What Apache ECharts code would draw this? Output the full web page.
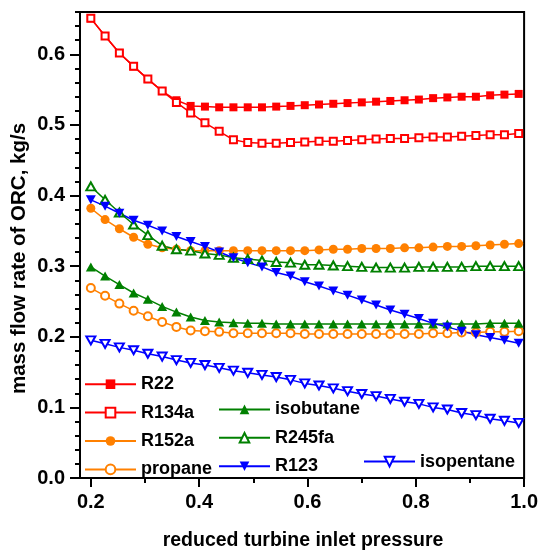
<!DOCTYPE html>
<html>
<head>
<meta charset="utf-8">
<script src="https://cdn.jsdelivr.net/npm/echarts@6/dist/echarts.min.js"></script>
<style>
html,body{margin:0;padding:0;background:#fff;}
#chart{width:541px;height:551px;}
</style>
</head>
<body>
<div id="chart"></div>
<script>
// ---- data ----
const xValues = [0.200,0.2263,0.2527,0.2790,0.3053,0.3317,0.3580,0.3843,0.4107,0.4370,0.4633,0.4897,0.5160,0.5423,0.5687,0.5950,0.6213,0.6477,0.6740,0.7003,0.7267,0.7530,0.7793,0.8057,0.8320,0.8583,0.8847,0.9110,0.9373,0.9637,0.9900];
const R22 = [0.651,0.626,0.602,0.583,0.565,0.548,0.535,0.527,0.526,0.525,0.525,0.525,0.525,0.526,0.527,0.528,0.529,0.530,0.531,0.532,0.533,0.534,0.535,0.536,0.538,0.539,0.540,0.540,0.542,0.543,0.544];
const R134a = [0.651,0.626,0.602,0.583,0.565,0.548,0.532,0.517,0.503,0.491,0.479,0.475,0.474,0.474,0.475,0.476,0.477,0.477,0.478,0.479,0.480,0.481,0.481,0.482,0.483,0.483,0.484,0.485,0.486,0.486,0.488];
const R152a = [0.382,0.366,0.353,0.341,0.331,0.326,0.324,0.322,0.322,0.322,0.322,0.322,0.322,0.322,0.322,0.322,0.323,0.324,0.324,0.325,0.325,0.325,0.326,0.326,0.327,0.328,0.328,0.329,0.330,0.331,0.332];
const propane = [0.269,0.258,0.247,0.237,0.229,0.221,0.214,0.209,0.208,0.207,0.205,0.205,0.205,0.205,0.205,0.204,0.204,0.204,0.204,0.204,0.204,0.204,0.204,0.204,0.205,0.205,0.206,0.206,0.207,0.207,0.208];
const isobutane = [0.299,0.286,0.274,0.262,0.253,0.243,0.235,0.228,0.223,0.221,0.220,0.219,0.219,0.218,0.218,0.218,0.218,0.218,0.218,0.218,0.218,0.218,0.218,0.218,0.218,0.218,0.218,0.218,0.219,0.219,0.219];
const R245fa = [0.413,0.394,0.376,0.359,0.344,0.329,0.324,0.322,0.318,0.316,0.312,0.310,0.308,0.306,0.305,0.302,0.302,0.301,0.300,0.299,0.298,0.298,0.298,0.299,0.299,0.299,0.299,0.300,0.300,0.300,0.300];
const R123 = [0.394,0.385,0.375,0.365,0.358,0.350,0.342,0.335,0.328,0.320,0.312,0.305,0.299,0.291,0.286,0.278,0.272,0.265,0.259,0.252,0.245,0.238,0.232,0.226,0.219,0.214,0.208,0.203,0.199,0.195,0.191];
const isopentane = [0.195,0.190,0.185,0.181,0.176,0.172,0.167,0.163,0.160,0.156,0.152,0.149,0.146,0.143,0.139,0.134,0.131,0.127,0.123,0.119,0.116,0.112,0.108,0.105,0.100,0.097,0.092,0.089,0.084,0.081,0.078];

const xMajorTicks = [0.2,0.4,0.6,0.8,1.0];
const xMinorTicks = [0.3,0.5,0.7,0.9];
const yMajorTicks = [0,0.1,0.2,0.3,0.4,0.5,0.6];
const yMinorTicks = [0.02,0.04,0.06,0.08,0.12,0.14,0.16,0.18,0.22,0.24,0.26,0.28,0.32,0.34,0.36,0.38,0.42,0.44,0.46,0.48,0.52,0.54,0.56,0.58,0.62,0.64,0.66];

const xTitle = 'reduced turbine inlet pressure';
const yTitle = 'mass flow rate of ORC, kg/s';

// ---- chart ----
const FONT = '"Liberation Sans", Arial, sans-serif';
const pairs = ys => ys.map((y, i) => [xValues[i], y]);

function mk(name, ys, color, symbol, size, rotate) {
  const empty = symbol.indexOf('empty') === 0;
  return {
    name: name, type: 'line', data: pairs(ys),
    symbol: symbol, symbolSize: size, symbolRotate: rotate || 0,
    showAllSymbol: true,
    lineStyle: { color: color, width: 1.5 },
    itemStyle: { color: color, borderColor: color, borderWidth: empty ? 1.5 : 0 },
    emphasis: { disabled: true },
    animation: false
  };
}

const RED = '#ff0000', ORANGE = '#ff8000', GREEN = '#008000', BLUE = '#0000ff';

const series = [
  mk('R22', R22, RED, 'rect', 8),
  mk('R134a', R134a, RED, 'emptyRect', 7),
  mk('R152a', R152a, ORANGE, 'circle', 9),
  mk('propane', propane, ORANGE, 'emptyCircle', 8),
  mk('isobutane', isobutane, GREEN, 'triangle', [10, 9]),
  mk('R245fa', R245fa, GREEN, 'emptyTriangle', [9, 8]),
  mk('R123', R123, BLUE, 'triangle', [10, 9], 180),
  mk('isopentane', isopentane, BLUE, 'emptyTriangle', [9, 8], 180)
];

const legendBase = {
  orient: 'vertical', itemWidth: 51, itemHeight: 12, itemGap: 10.4,
  backgroundColor: 'transparent', padding: 0,
  textStyle: { fontFamily: FONT, fontWeight: 'bold', fontSize: 18, color: '#000' },
  selectedMode: false
};

const labelStyle = { fontFamily: FONT, fontWeight: 'bold', fontSize: 20, color: '#000' };

const option = {
  animation: false,
  backgroundColor: '#fff',
  grid: { left: 80, right: 16, top: 12, bottom: 73, show: true, borderColor: '#000', borderWidth: 2, backgroundColor: 'transparent' },
  legend: [
    Object.assign({}, legendBase, { left: 84, top: 375.2, data: ['R22', 'R134a', 'R152a', 'propane'] }),
    Object.assign({}, legendBase, { left: 218, top: 400.4, data: ['isobutane', 'R245fa', 'R123'] }),
    Object.assign({}, legendBase, { left: 363, top: 452.6, data: ['isopentane'] })
  ],
  xAxis: [
    {
      type: 'value', min: 0.18, max: 1.0, position: 'bottom',
      axisLine: { show: true, lineStyle: { color: '#000', width: 2 } },
      axisTick: { show: true, customValues: xMajorTicks, length: 9, lineStyle: { color: '#000', width: 2 } },
      axisLabel: Object.assign({ customValues: xMajorTicks, margin: 14, formatter: v => v.toFixed(1) }, labelStyle),
      splitLine: { show: false }
    },
    {
      type: 'value', min: 0.18, max: 1.0, position: 'bottom',
      axisLine: { show: false },
      axisTick: { show: true, customValues: xMinorTicks, length: 5, lineStyle: { color: '#000', width: 2 } },
      axisLabel: { show: false },
      splitLine: { show: false }
    }
  ],
  yAxis: [
    {
      type: 'value', min: 0, max: 0.66, position: 'left',
      axisLine: { show: true, lineStyle: { color: '#000', width: 2 } },
      axisTick: { show: true, customValues: yMajorTicks, length: 10, lineStyle: { color: '#000', width: 2 } },
      axisLabel: Object.assign({ customValues: yMajorTicks, margin: 15, formatter: v => v.toFixed(1) }, labelStyle),
      splitLine: { show: false }
    },
    {
      type: 'value', min: 0, max: 0.66, position: 'left',
      axisLine: { show: false },
      axisTick: { show: true, customValues: yMinorTicks, length: 5, lineStyle: { color: '#000', width: 2 } },
      axisLabel: { show: false },
      splitLine: { show: false }
    }
  ],
  graphic: [
    { type: 'text', x: 303, y: 541, style: { text: xTitle, font: 'bold 19.5px ' + FONT, fill: '#000', align: 'center', verticalAlign: 'middle' } },
    { type: 'text', x: 19.5, y: 258.5, rotation: Math.PI / 2, style: { text: yTitle, font: 'bold 20.5px ' + FONT, fill: '#000', align: 'center', verticalAlign: 'middle' } }
  ],
  series: series
};

const chart = echarts.init(document.getElementById('chart'), null, { renderer: 'canvas' });
chart.setOption(option);
</script>
</body>
</html>
